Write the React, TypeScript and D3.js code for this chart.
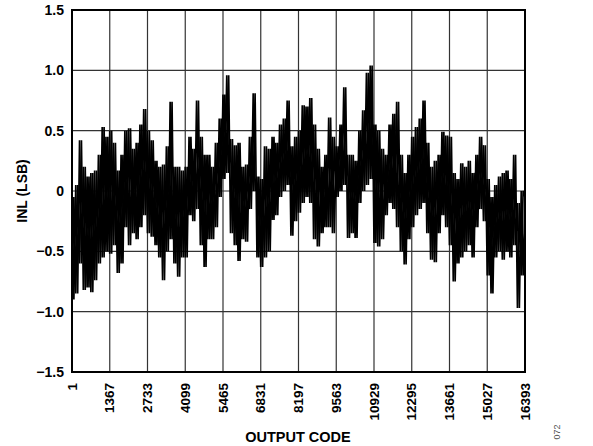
import { line, scaleLinear } from "d3";

// INL peak / trough readings, one pair per 1/10 of a grid column (step = 136.6 codes)
const inlHigh = [
  -0.05, 0.05, 0.42, 0.2, 0.12, 0.15, 0.17, 0.3, 0.53, 0.45,
  0.5, 0.4, 0.17, 0.3, 0.5, 0.52, 0.35, 0.4, 0.55, 0.68,
  0.5, 0.42, 0.25, 0.2, 0.22, 0.37, 0.74, 0.2, 0.2, 0.17,
  0.2, 0.45, 0.35, 0.75, 0.45, 0.3, 0.3, 0.2, 0.4, 0.6,
  0.8, 0.96, 0.43, 0.38, 0.4, 0.2, 0.22, 0.45, 0.81, 0.12,
  0.1, 0.37, 0.35, 0.45, 0.4, 0.55, 0.6, 0.75, 0.37, 0.45,
  0.5, 0.71, 0.7, 0.77, 0.55, 0.35, 0.2, 0.3, 0.61, 0.45,
  0.37, 0.55, 0.86, 0.3, 0.3, 0.25, 0.5, 0.67, 0.98, 1.04,
  0.55, 0.5, 0.35, 0.3, 0.55, 0.64, 0.74, 0.3, 0.15, 0.3,
  0.45, 0.53, 0.6, 0.75, 0.4, 0.2, 0.25, 0.3, 0.49, 0.46,
  0.45, 0.15, 0.1, 0.23, 0.2, 0.25, 0.15, 0.3, 0.45, 0.38,
  0.1, -0.05, 0.05, 0.12, 0.15, 0.17, 0.1, 0.3, -0.1, 0.0,
  -0.05,
];

const inlLow = [
  -0.9, -0.85, -0.6, -0.82, -0.8, -0.84, -0.74, -0.6, -0.55, -0.5,
  -0.52, -0.45, -0.68, -0.6, -0.3, -0.45, -0.35, -0.4, -0.3, -0.2,
  -0.35, -0.38, -0.45, -0.55, -0.74, -0.5, -0.4, -0.6, -0.71, -0.55,
  -0.55, -0.2, -0.25, -0.15, -0.45, -0.63, -0.4, -0.4, -0.3, -0.05,
  0.1, 0.15, -0.35, -0.45, -0.58, -0.4, -0.42, -0.15, 0.0, -0.55,
  -0.63, -0.55, -0.5, -0.24, -0.2, -0.05, 0.0, 0.05, -0.37, -0.25,
  -0.18, -0.1, -0.05, -0.1, -0.4, -0.46, -0.35, -0.3, -0.3, -0.35,
  -0.05, 0.0, 0.05, -0.39, -0.35, -0.39, -0.1, 0.0, 0.05, 0.1,
  -0.43, -0.46, -0.4, -0.2, -0.1, -0.15, -0.3, -0.5, -0.61, -0.4,
  -0.3, -0.2, -0.15, -0.1, -0.35, -0.57, -0.59, -0.35, -0.2, -0.3,
  -0.45, -0.75, -0.6, -0.55, -0.5, -0.45, -0.55, -0.3, -0.15, -0.25,
  -0.7, -0.85, -0.55, -0.5, -0.57, -0.5, -0.55, -0.45, -0.97, -0.7,
];

const codeTicks = [1, 1367, 2733, 4099, 5465, 6831, 8197, 9563, 10929, 12295, 13661, 15027, 16393];
const inlTicks = [1.5, 1.0, 0.5, 0, -0.5, -1.0, -1.5];
const inlTickLabels = ["1.5", "1.0", "0.5", "0", "\u22120.5", "\u22121.0", "\u22121.5"];

const W = 593;
const H = 446;
const plot = { left: 72, right: 525, top: 10, bottom: 372 };
const font = "'Liberation Sans', Arial, sans-serif";

export default function App() {
  const x = scaleLinear().domain([1, 16393]).range([plot.left, plot.right]);
  const y = scaleLinear().domain([-1.5, 1.5]).range([plot.bottom, plot.top]);

  const step = (16393 - 1) / (inlHigh.length - 1);
  // two interleaved passes over the same peak/trough readings so the
  // dense trace fills in like the scope capture does
  const passA: [number, number][] = [];
  const passB: [number, number][] = [];
  inlHigh.forEach((v, i) => {
    const c = 1 + i * step;
    if (i < inlLow.length) {
      passA.push([c, v], [c + step / 2, inlLow[i]]);
      passB.push([c, inlLow[i]], [c + step / 2, v]);
    } else {
      passA.push([c, v]);
      passB.push([c, v]);
    }
  });

  const trace = line<[number, number]>()
    .x((d) => x(d[0]))
    .y((d) => y(d[1]));

  return (
    <svg
      width={W}
      height={H}
      style={{ position: "absolute", left: 0, top: 0, background: "#fff" }}
      fontFamily={font}
    >
      {/* grid */}
      {codeTicks.slice(1, -1).map((c) => (
        <line key={`vx-${c}`} x1={x(c)} x2={x(c)} y1={plot.top} y2={plot.bottom} stroke="#333" strokeWidth={1.2} />
      ))}
      {inlTicks.slice(1, -1).map((v) => (
        <line key={`hy-${v}`} x1={plot.left} x2={plot.right} y1={y(v)} y2={y(v)} stroke="#333" strokeWidth={1.2} />
      ))}

      <path d={trace(passA) ?? ""} fill="none" stroke="#000" strokeWidth={1.7} />
      <path d={trace(passB) ?? ""} fill="none" stroke="#000" strokeWidth={1.7} />

      <rect
        x={plot.left}
        y={plot.top}
        width={plot.right - plot.left}
        height={plot.bottom - plot.top}
        fill="none"
        stroke="#000"
        strokeWidth={2}
      />

      {/* y tick labels */}
      {inlTicks.map((v, i) => (
        <text
          key={`yl-${v}`}
          x={64}
          y={y(v)}
          textAnchor="end"
          dominantBaseline="central"
          fontSize={14}
          fontWeight="bold"
        >
          {inlTickLabels[i]}
        </text>
      ))}

      {/* x tick labels */}
      {codeTicks.map((c) => (
        <text
          key={`xl-${c}`}
          transform={`translate(${x(c)}, 383) rotate(-90)`}
          textAnchor="end"
          dominantBaseline="central"
          fontSize={13.5}
          fontWeight="bold"
        >
          {c}
        </text>
      ))}

      <text
        transform={`translate(22, ${y(0)}) rotate(-90)`}
        textAnchor="middle"
        dominantBaseline="central"
        fontSize={14}
        fontWeight="bold"
      >
        INL (LSB)
      </text>

      <text x={298} y={442} textAnchor="middle" fontSize={14.5} fontWeight="bold">
        OUTPUT CODE
      </text>

      <text
        transform={`translate(557, 432) rotate(-90)`}
        textAnchor="middle"
        dominantBaseline="central"
        fontSize={9}
        fill="#555"
      >
        072
      </text>
    </svg>
  );
}
